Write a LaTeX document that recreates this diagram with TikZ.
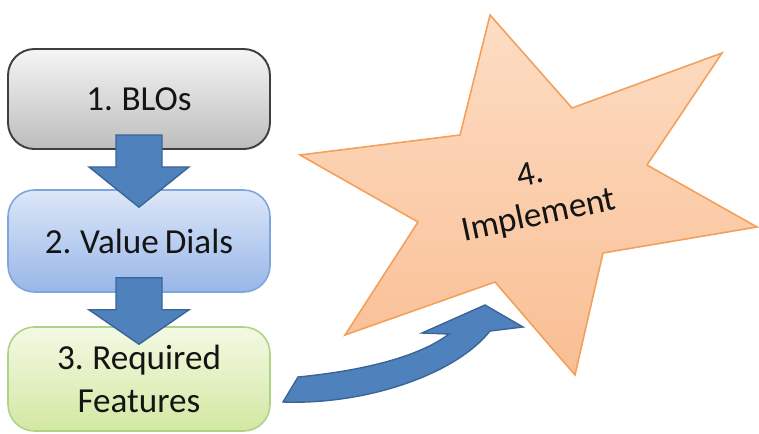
\documentclass[tikz,border=0pt]{standalone}
\usepackage{fontspec}
\setmainfont{Carlito}[WordSpace=0.75]
\usetikzlibrary{calc}
\definecolor{grayTop}{HTML}{F5F5F5}
\definecolor{grayBot}{HTML}{BDBDBD}
\definecolor{grayEdge}{HTML}{3F3F3F}
\definecolor{blueTop}{HTML}{DCE7F9}
\definecolor{blueBot}{HTML}{98B6E8}
\definecolor{blueEdge}{HTML}{7EA6DE}
\definecolor{greenTop}{HTML}{F3F9E3}
\definecolor{greenBot}{HTML}{D3E8A2}
\definecolor{greenEdge}{HTML}{B0D287}
\definecolor{arrowFill}{HTML}{4F81BD}
\definecolor{arrowEdge}{HTML}{3A6697}
\definecolor{starTop}{HTML}{FDDDC4}
\definecolor{starBot}{HTML}{F9BE93}
\definecolor{starEdge}{HTML}{F2A05C}
\definecolor{txt}{HTML}{141414}
\tikzset{
  stepbox/.style={draw, rounded corners=15pt, minimum width=5.24cm, align=center,
    text=txt, font=\fontsize{20}{24}\selectfont, inner sep=0pt},
  blockarrow/.style={fill=arrowFill, draw=arrowEdge, line width=0.8pt, line join=miter},
  starstyle/.style={draw=starEdge, line width=0.9pt, top color=starTop, bottom color=starBot, line join=miter},
  startext/.style={rotate=12, text=txt, font=\fontsize{20}{25}\selectfont, inner sep=1pt}
}
\newcommand\blockdn[2]{%
  \draw[blockarrow]
    ($(#1.south)+(-23,-15)$) -- ($(#1.south)+(23,-15)$) --
    ($(#1.south)+(23,17)$) -- ($(#1.south)+(50,17)$) --
    ($(#2.north)+(0,18)$) --
    ($(#1.south)+(-50,17)$) -- ($(#1.south)+(-23,17)$) -- cycle;}
\begin{document}
\begin{tikzpicture}[x=0.02cm,y=-0.02cm]
\useasboundingbox (0,0) rectangle (759,433);
% step boxes
\node[stepbox, draw=grayEdge, line width=1.1pt, top color=grayTop, bottom color=grayBot,
      minimum height=2.0cm] (b1) at (139,99) {1. BLOs};
\node[stepbox, draw=blueEdge, line width=0.9pt, top color=blueTop, bottom color=blueBot,
      minimum height=2.04cm] (b2) at (139,241) {2. Value Dials};
\node[stepbox, draw=greenEdge, line width=0.9pt, top color=greenTop, bottom color=greenBot,
      minimum height=2.08cm] (b3) at (139,379) {3. Required\\Features};
% block arrows between boxes
\blockdn{b1}{b2}
\blockdn{b2}{b3}
% star
\draw[starstyle] (490,15) -- (572,108) -- (722,53) -- (647,165) -- (757,227) -- (603,253)
  -- (575,375) -- (495,282) -- (345,335) -- (418,222) -- (300,155) -- (460,135) -- cycle;
\node[startext] (s1) at (530,174) {4.};
\node[startext] (s2) at (539,216) {Implement};
% curved arrow
\coordinate (ca) at (283,402);
\coordinate (cb) at (298,377);
\coordinate (cc) at (449,334);
\coordinate (cd) at (422,333);
\coordinate (ce) at (485,305);
\coordinate (cf) at (523,327);
\coordinate (cg) at (490,331);
\draw[blockarrow] (ca) -- (cb) .. controls (350,372) and (415,360) .. (cc) -- (cd) -- (ce) -- (cf) -- (cg)
  .. controls (455,375) and (365,405) .. (ca) -- cycle;
\end{tikzpicture}
\end{document}
